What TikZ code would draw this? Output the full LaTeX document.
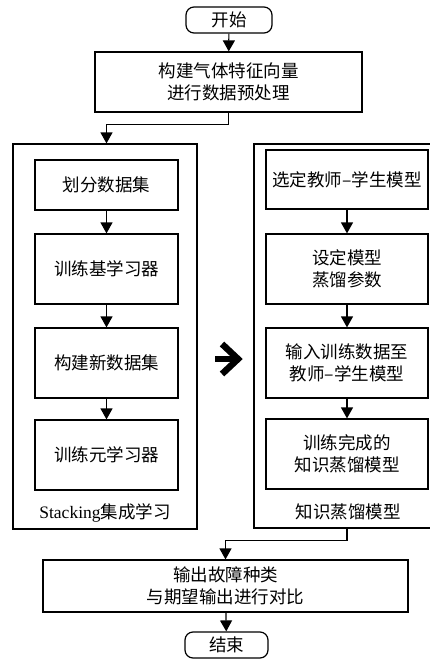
\documentclass[tikz,border=0pt]{standalone}
\usepackage{fontspec}
\setmainfont{Liberation Serif}
\newfontfamily\cjk{Noto Sans CJK SC}
\usetikzlibrary{arrows.meta}
\begin{document}
\begin{tikzpicture}[x=1pt,y=-1pt,
  line width=1.2pt,
  txt/.style={font=\cjk\fontsize{17.5}{22}\selectfont, align=center},
  box/.style={txt, draw, inner sep=0pt},
  term/.style={box, rounded corners=8pt},
  arr/.style={-{Triangle[width=12pt,length=11pt]}},
  panel/.style={draw, inner sep=0pt}]
\useasboundingbox (0,0) rectangle (430,659);
\clip (0,0) rectangle (430,659);
% top
\node[term, minimum width=86pt, minimum height=26pt] (start) at (229,20) {开始};
\node[box, minimum width=267pt, minimum height=60pt] (prep) at (228.5,82) {构建气体特征向量\\进行数据预处理};
% panels
\node[panel, minimum width=184pt, minimum height=385pt] (Lout) at (105,336.5) {};
\node[panel, minimum width=186pt, minimum height=384pt] (Rout) at (347,336) {};
% left inner
\node[box, minimum width=143pt, minimum height=50pt] (L1) at (106.5,185) {划分数据集};
\node[box, minimum width=143pt, minimum height=70pt] (L2) at (106.5,269) {训练基学习器};
\node[box, minimum width=143pt, minimum height=70pt] (L3) at (106.5,363) {构建新数据集};
\node[box, minimum width=143pt, minimum height=70pt] (L4) at (106.5,455) {训练元学习器};
\node[txt] (Llab) at (105,513) {{\rmfamily Stacking}集成学习};
% right inner
\node[box, minimum width=162pt, minimum height=59pt] (R1) at (347,179.5) {选定教师–学生模型};
\node[box, minimum width=162pt, minimum height=70pt] (R2) at (347,269) {设定模型\\蒸馏参数};
\node[box, minimum width=162pt, minimum height=70pt] (R3) at (347,363) {输入训练数据至\\教师–学生模型};
\node[box, minimum width=162pt, minimum height=70pt] (R4) at (347,454) {训练完成的\\知识蒸馏模型};
\node[txt] (Rlab) at (348,512) {知识蒸馏模型};
% bottom
\node[box, minimum width=365pt, minimum height=52pt] (out) at (225.5,586) {输出故障种类\\与期望输出进行对比};
\node[term, minimum width=83pt, minimum height=26pt] (end) at (226.5,645) {结束};
% connectors
\draw[arr] (start) -- (prep);
\draw[arr] (prep.south) -- ++(0,12) -| (L1.north |- Lout.north);
\draw[arr] (L1) -- (L2);
\draw[arr] (L2) -- (L3);
\draw[arr] (L3) -- (L4);
\draw[arr] (R1) -- (R2);
\draw[arr] (R2) -- (R3);
\draw[arr] (R3) -- (R4);
\draw[arr] (R4.south |- Rout.south) -- ++(0,12) -| (out.north);
\draw[arr] (out) -- (end);
% big arrow
\coordinate (ba) at (215,359);
\draw[line width=6.5pt, miter limit=10] (ba) ++(7,-15) -- ++(16,15) -- ++(-16,15);
\draw[line width=6.5pt] (ba) -- ++(21,0);
\end{tikzpicture}
\end{document}
